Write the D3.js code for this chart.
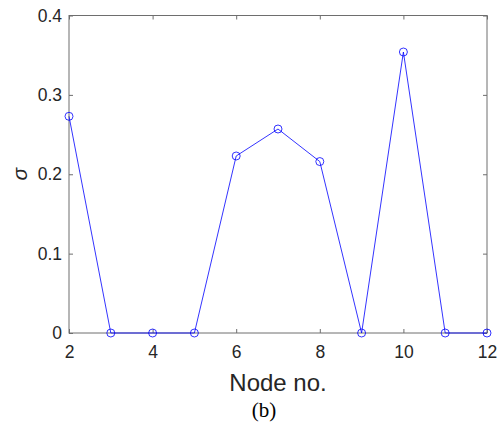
<!DOCTYPE html>
<html><head><meta charset="utf-8">
<script src="https://cdn.jsdelivr.net/npm/d3@7"></script>
<style>body{margin:0;background:#fff}</style>
</head><body>
<script>
const nodes = [2,3,4,5,6,7,8,9,10,11,12];
const sigma = [0.273,0,0,0,0.223,0.257,0.216,0,0.354,0,0];
const xTicks = [2,4,6,8,10,12];
const yTicks = [0,0.1,0.2,0.3,0.4];

const W=502,H=425;
const m={l:69,t:15.5,r:502-487,b:425-333};
const svg=d3.select("body").append("svg").attr("width",W).attr("height",H);
const x=d3.scaleLinear().domain([2,12]).range([m.l,W-m.r]);
const y=d3.scaleLinear().domain([0,0.4]).range([H-m.b,m.t]);
const ax="#6e6e6e";
const font="Liberation Sans, Arial, sans-serif";

svg.append("rect").attr("x",x(2)).attr("y",y(0.4)).attr("width",x(12)-x(2)).attr("height",y(0)-y(0.4))
  .attr("fill","none").attr("stroke",ax).attr("stroke-width",1);

const tl=4;
const xa=svg.append("g").attr("transform",`translate(0,${y(0)})`)
  .call(d3.axisBottom(x).tickValues(xTicks).tickFormat(d3.format("d")).tickSizeInner(-tl).tickSizeOuter(0).tickPadding(13));
const xt=svg.append("g").attr("transform",`translate(0,${y(0.4)})`)
  .call(d3.axisTop(x).tickValues(xTicks).tickFormat("").tickSizeInner(-tl).tickSizeOuter(0));
const ya=svg.append("g").attr("transform",`translate(${x(2)},0)`)
  .call(d3.axisLeft(y).tickValues(yTicks).tickFormat(d=>d===0?"0":d3.format(".1f")(d)).tickSizeInner(-tl).tickSizeOuter(0).tickPadding(7));
const yr=svg.append("g").attr("transform",`translate(${x(12)},0)`)
  .call(d3.axisRight(y).tickValues(yTicks).tickFormat("").tickSizeInner(-tl).tickSizeOuter(0));
[xa,xt,ya,yr].forEach(g=>{g.select(".domain").remove();g.selectAll("line").attr("stroke",ax);
  g.selectAll("text").attr("fill","#262626").style("font-family",font).style("font-size","17.5px");});

const line=d3.line().x((d,i)=>x(nodes[i])).y(d=>y(d));
svg.append("path").datum(sigma).attr("d",line).attr("fill","none").attr("stroke","#0000ff").attr("stroke-width",0.8);
svg.selectAll("circle.pt").data(sigma).enter().append("circle").attr("class","pt")
  .attr("cx",(d,i)=>x(nodes[i])).attr("cy",d=>y(d)).attr("r",4)
  .attr("fill","none").attr("stroke","#0000ff").attr("stroke-width",0.8);

svg.append("text").attr("x",(x(2)+x(12))/2).attr("y",391).attr("text-anchor","middle")
  .style("font-family",font).style("font-size","24px").attr("fill","#262626").text("Node no.");
svg.append("text").attr("transform",`translate(27,${(y(0)+y(0.4))/2}) rotate(-90)`).attr("text-anchor","middle")
  .style("font-family",font).style("font-size","21px").style("font-style","italic").attr("fill","#262626").text("σ");
svg.append("text").attr("x",(x(2)+x(12))/2-14).attr("y",417).attr("text-anchor","middle")
  .style("font-family","Liberation Serif, Times New Roman, serif").style("font-size","21px").attr("fill","#000").text("(b)");
</script>
</body></html>
